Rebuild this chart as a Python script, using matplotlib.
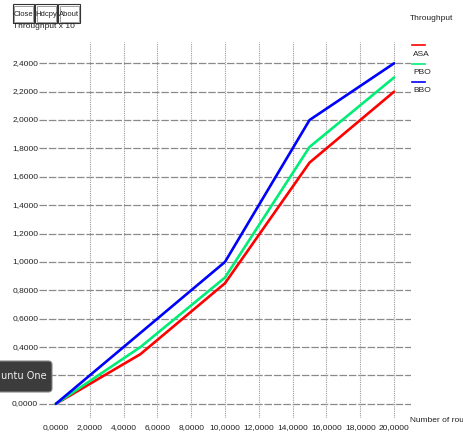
import matplotlib
matplotlib.use("Agg")
import matplotlib.pyplot as plt
from matplotlib.patches import Rectangle, FancyBboxPatch

# valori
rounds = [0, 5, 10, 15, 20]
asa = [0.0, 0.35, 0.85, 1.70, 2.20]
pbo = [0.0, 0.40, 0.89, 1.81, 2.30]
bbo = [0.0, 0.50, 1.00, 2.00, 2.40]
series_names = ["ASA", "PBO", "BBO"]
series_colors = ["#ff0000", "#00ee77", "#0000ff"]

x_ticks = [0, 2, 4, 6, 8, 10, 12, 14, 16, 18, 20]
y_ticks = [0.0, 0.2, 0.4, 0.6, 0.8, 1.0, 1.2, 1.4, 1.6, 1.8, 2.0, 2.2, 2.4]

FONT = "Liberation Sans"
FS = 6
W, H = 463, 438


def fx(px):
    return px / W


def fy(py):
    return 1 - py / H


def fmt(v):
    return ("%.4f" % v).replace(".", ",")


fig = plt.figure(figsize=(W / 100, H / 100), dpi=100)
fig.patch.set_facecolor("white")
ax = fig.add_axes([fx(39), fy(418), fx(411) - fx(39), fy(42) - fy(418)])
ax.set_xlim(-1, 21)
ax.set_ylim(-0.1, 2.55)
ax.axis("off")

# griglia
for y in y_ticks:
    ax.plot([-1, 21], [y, y], color="#8a8a8a", lw=0.9, ls=(0, (6, 1.5)), zorder=1)
for x in x_ticks[1:]:
    ax.plot([x, x], [-0.1, 2.55], color="#9a9a9a", lw=0.8, ls=(0, (1, 1)), zorder=1)

# serie
for vals, name, col in zip([asa, pbo, bbo], series_names, series_colors):
    ax.plot(rounds, vals, color=col, lw=1.9, zorder=3, solid_capstyle="round")

# etichette assi
for y in y_ticks:
    ax.text(-1.05, y, fmt(y), ha="right", va="center", fontsize=FS,
            family=FONT, color="#222222")
for x in x_ticks:
    ax.text(x, -0.165, fmt(x), ha="center", va="center", fontsize=FS,
            family=FONT, color="#222222", clip_on=False)

fig.text(fx(410), fy(421), "Number of round", ha="left", va="center",
         fontsize=FS, family=FONT, color="#222222")
fig.text(fx(410), fy(18), "Throughput", ha="left", va="center",
         fontsize=FS, family=FONT, color="#222222")
fig.text(fx(13), fy(27), "Throughput x 10", ha="left", va="center",
         fontsize=FS, family=FONT, color="#222222")

# legenda
leg_y = [45, 64, 82]
for yy, name, col in zip(leg_y, series_names, series_colors):
    fig.add_artist(plt.Line2D([fx(412), fx(425)], [fy(yy), fy(yy)], color=col, lw=1.2))
    fig.text(fx(413), fy(yy + 9), name, ha="left", va="center",
             fontsize=FS, family=FONT, color="#222222")

# pulsanti
buttons = [("Close", 13, 34), ("Hdcpy", 35, 57), ("About", 58, 80)]
for label, x0, x1 in buttons:
    fig.add_artist(Rectangle((fx(x0), fy(23)), fx(x1) - fx(x0), fy(4) - fy(23),
                             facecolor="white", edgecolor="#333333", lw=0.8,
                             transform=fig.transFigure))
    fig.add_artist(Rectangle((fx(x0 + 1.5), fy(21.5)), fx(x1 - 1.5) - fx(x0 + 1.5),
                             fy(5.5) - fy(21.5), facecolor="none",
                             edgecolor="#777777", lw=0.5, transform=fig.transFigure))
    fig.text(fx((x0 + x1) / 2), fy(14), label, ha="center", va="center",
             fontsize=5.5, family=FONT, color="#222222")

# tooltip sovrapposto
fig.add_artist(FancyBboxPatch((fx(-6), fy(392)), fx(52) - fx(-6), fy(361) - fy(392),
                              boxstyle="round,pad=0,rounding_size=0.008",
                              facecolor="#3c3c3c", edgecolor="#888888", lw=0.8,
                              transform=fig.transFigure, zorder=10))
fig.text(fx(24), fy(376), "untu One", ha="center", va="center", fontsize=7,
         color="#f0f0f0", zorder=11)

fig.savefig("out.png", dpi=100)
